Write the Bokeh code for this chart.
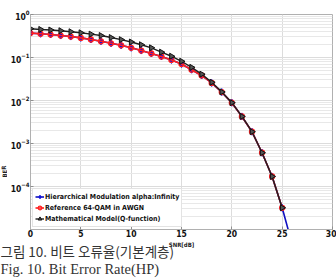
from bokeh.plotting import figure
from bokeh.layouts import column, row
from bokeh.models import Range1d, FixedTicker, Legend, LegendItem
from bokeh.core.properties import value
from bokeh.embed import file_html
from bokeh.resources import INLINE

# SNR points in dB
snr = [0, 1, 2, 3, 4, 5, 6, 7, 8, 9, 10, 11, 12, 13, 14, 15, 16, 17, 18, 19, 20, 21, 22, 23, 24, 25]
snr_hier = snr + [26]

# BER of the reference 64-QAM in AWGN
ber_ref = [0.369, 0.356, 0.343, 0.324, 0.307, 0.286, 0.262, 0.238, 0.214, 0.192,
           0.168, 0.145, 0.124, 0.106, 0.0879, 0.0707, 0.052, 0.0382, 0.0256, 0.0157,
           0.0089, 0.00426, 0.00188, 6.1e-4, 1.71e-4, 3.2e-5]
# BER of hierarchical modulation (alpha = infinity)
ber_hier = [0.369, 0.356, 0.343, 0.324, 0.307, 0.286, 0.262, 0.238, 0.214, 0.192,
            0.168, 0.145, 0.124, 0.106, 0.0879, 0.0707, 0.052, 0.0382, 0.0256, 0.0157,
            0.0089, 0.00426, 0.00188, 6.1e-4, 1.71e-4, 3.2e-5, 4.5e-6]
# BER of the mathematical model (Q-function)
ber_model = [0.466, 0.449, 0.435, 0.419, 0.397, 0.375, 0.349, 0.324, 0.291, 0.260,
             0.229, 0.198, 0.168, 0.133, 0.107, 0.0818, 0.059, 0.041, 0.0265, 0.0158,
             0.0089, 0.00426, 0.00188, 6.1e-4, 1.71e-4, 3.2e-5]

x_ticks = [0, 5, 10, 15, 20, 25, 30]
y_ticks = [1e-4, 1e-3, 1e-2, 1e-1, 1]
y_minor = [m * 10.0 ** e for e in range(-5, 0) for m in range(2, 10)]

labels = ["Hierarchical Modulation alpha:Infinity",
          "Reference 64-QAM in AWGN",
          "Mathematical Model(Q-function)"]
x_title = "SNR[dB]"
y_title = "BER"
caption_kr = "그림 10. 비트 오류율(기본계층)"
caption_en = "Fig. 10. Bit Error Rate(HP)"

NARROW = "DejaVu Sans Condensed"
TOP_H = 241      # height of the chart row
SIDE_W = 7       # strip left of the chart holding the y title


def blank(width, height, x_range, y_range):
    """A figure with no axes or grid, used as a plain text strip."""
    f = figure(width=width, height=height, x_range=x_range, y_range=y_range,
               x_axis_location=None, y_axis_location=None,
               output_backend="svg", toolbar_location=None,
               min_border=0)
    f.grid.visible = False
    f.outline_line_color = None
    f.background_fill_color = "white"
    f.border_fill_color = "white"
    return f


# main chart
p = figure(width=336 - SIDE_W, height=TOP_H, y_axis_type="log",
           x_range=Range1d(0, 30), y_range=Range1d(1e-5, 1),
           output_backend="svg", toolbar_location=None,
           min_border_left=16, min_border_right=4,
           min_border_top=14, min_border_bottom=12)
p.background_fill_color = "white"
p.border_fill_color = "white"
p.outline_line_color = "#b0b0b0"

p.xaxis.ticker = FixedTicker(ticks=x_ticks)
p.yaxis.ticker = FixedTicker(ticks=y_ticks, minor_ticks=y_minor)

for ax in (p.xaxis[0], p.yaxis[0]):
    ax.axis_line_color = "#b0b0b0"
    ax.major_tick_in = 3
    ax.major_tick_out = 0
    ax.minor_tick_in = 0
    ax.minor_tick_out = 0
    ax.major_tick_line_color = "#909090"
    ax.major_label_text_font = NARROW
    ax.major_label_text_font_style = "bold"
    ax.major_label_text_font_size = "8.5px"
    ax.major_label_text_color = "#111111"
p.yaxis.major_label_standoff = 1
p.xaxis.major_label_standoff = 0

p.xgrid.grid_line_color = "#dcdcdc"
p.ygrid.grid_line_color = "#dcdcdc"
p.ygrid.minor_grid_line_color = "#e8e8e8"

r_hl = p.line(snr_hier, ber_hier, line_color="#1010c0", line_width=1.6)
r_hm = p.scatter(snr_hier, ber_hier, marker="diamond", size=7,
                 fill_color="#1010e0", line_color="#1010e0")
r_rl = p.line(snr, ber_ref, line_color="#ff2020", line_width=1.6)
r_rm = p.scatter(snr, ber_ref, marker="circle", size=5,
                 fill_color=None, line_color="#ff2020", line_width=1.3)
r_ml = p.line(snr, ber_model, line_color="#202020", line_width=1.4)
r_mm = p.scatter(snr, ber_model, marker="triangle", angle=-1.5708, size=6,
                 fill_color="#555555", line_color="#111111", line_width=1)

legend = Legend(items=[LegendItem(label=labels[0], renderers=[r_hl, r_hm]),
                       LegendItem(label=labels[1], renderers=[r_rl, r_rm]),
                       LegendItem(label=labels[2], renderers=[r_ml, r_mm])],
                location="bottom_left")
legend.margin = 2
legend.padding = 2
legend.spacing = 0
legend.glyph_width = 9
legend.glyph_height = 11
legend.label_height = 11
legend.label_standoff = 1
legend.label_text_font = NARROW
legend.label_text_font_style = "bold"
legend.label_text_font_size = "7px"
legend.label_text_color = "#111111"
legend.border_line_color = "#c8c8c8"
legend.background_fill_color = "white"
legend.background_fill_alpha = 1
p.add_layout(legend, "center")

# strip on the left with the y axis title (y measured from the top)
side = blank(SIDE_W, TOP_H, Range1d(0, SIDE_W), Range1d(TOP_H, 0))
side.text(x=[SIDE_W / 2], y=[176], text=[y_title], angle=1.5708,
          text_align="center", text_baseline="middle",
          text_font=value(NARROW), text_font_style="bold",
          text_font_size=value("6px"), text_color="#222222")

# strip below with the x axis title and the two-line caption
bottom_h = 280 - TOP_H
foot = blank(336, bottom_h, Range1d(0, 336), Range1d(bottom_h, 0))
foot.text(x=[181], y=[3], text=[x_title], text_align="center",
          text_baseline="middle", text_font=value(NARROW),
          text_font_style="bold", text_font_size=value("6px"),
          text_color="#222222")
foot.text(x=[0], y=[9], text=[caption_kr], text_baseline="middle",
          text_font=value("Noto Sans CJK KR"), text_font_size=value("13.5px"),
          text_color="#333333")
foot.text(x=[0], y=[27], text=[caption_en], text_baseline="middle",
          text_font=value("Liberation Serif"), text_font_size=value("14.5px"),
          text_color="#333333")

layout = column(row(side, p, spacing=0), foot, spacing=0)

open("out.html", "w").write(file_html(layout, INLINE))
